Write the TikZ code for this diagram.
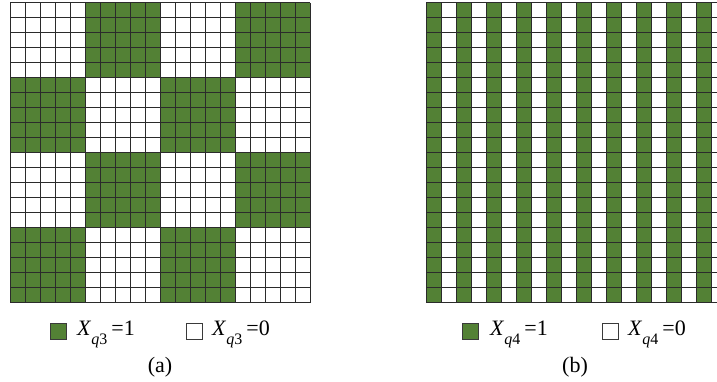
\documentclass[tikz,border=0pt]{standalone}
\usepackage{fontspec}
\setmainfont{Liberation Serif}
\usepackage{xcolor}
\usepackage{tikz}
\definecolor{cellgreen}{HTML}{538135}
\definecolor{gridink}{HTML}{2B2B2B}
\definecolor{keyedge}{HTML}{3A3A3A}
\tikzset{
  cell/.style={fill=cellgreen, draw=none},
  gline/.style={draw=gridink, line width=0.9pt},
  key/.style={draw=keyedge, line width=0.5pt, minimum size=16pt, inner sep=0pt},
  keylbl/.style={font=\fontsize{22}{24}\selectfont, anchor=base west, inner sep=0pt},
  subcap/.style={font=\fontsize{22}{24}\selectfont, anchor=base, inner sep=0pt},
}
\newcommand{\xqval}[2]{\textit{X}\raisebox{-9pt}{\fontsize{16}{16}\selectfont\textit{q}#1}\hspace{4pt}=#2}

\begin{document}
\begin{tikzpicture}[x=1pt, y=-1pt]
  \useasboundingbox (0,0) rectangle (717,381);

  % (a) block pattern
  \begin{scope}[shift={(10,2.5)}]
    \foreach \i in {0,...,3}
      \foreach \j in {0,...,3}{
        \pgfmathtruncatemacro\odd{mod(\i+\j,2)}
        \ifnum\odd=1 \fill[cell] (75*\i,75*\j) rectangle +(75,75); \fi
      }
    \foreach \k in {0,...,20}{
      \draw[gline] (15*\k,0) -- (15*\k,300);
      \draw[gline] (0,15*\k) -- (300,15*\k);
    }
  \end{scope}

  % (b) stripe pattern
  \begin{scope}
    \clip (0,0) rectangle (717,381);
    \begin{scope}[shift={(426,2.5)}]
      \foreach \i in {0,2,...,18}
        \fill[cell] (15*\i,0) rectangle +(15,300);
      \foreach \k in {0,...,20}{
        \draw[gline] (15*\k,0) -- (15*\k,300);
        \draw[gline] (0,15*\k) -- (300,15*\k);
      }
    \end{scope}
  \end{scope}

  % legends
  \node[key, fill=cellgreen] (keyA1) at (58,331.5) {};
  \node[keylbl] (lblA1) at (77,335) {\xqval{3}{1}};
  \node[key, fill=white] (keyA0) at (194,331.5) {};
  \node[keylbl] (lblA0) at (212,335) {\xqval{3}{0}};
  \node[subcap] (capA) at (160,372) {(a)};

  \node[key, fill=cellgreen] (keyB1) at (470,331.5) {};
  \node[keylbl] (lblB1) at (490,335) {\xqval{4}{1}};
  \node[key, fill=white] (keyB0) at (610,331.5) {};
  \node[keylbl] (lblB0) at (628,335) {\xqval{4}{0}};
  \node[subcap] (capB) at (575,372) {(b)};

\end{tikzpicture}
\end{document}
